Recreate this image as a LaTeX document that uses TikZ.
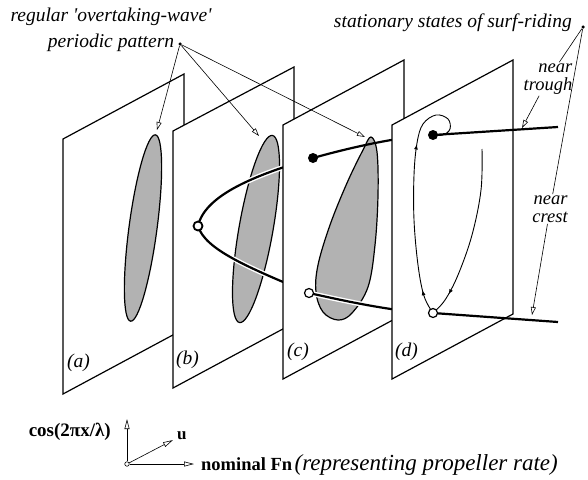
\documentclass[tikz,border=0pt]{standalone}
\usepackage{fontspec}
\setmainfont{Liberation Serif}
\usetikzlibrary{arrows.meta, decorations.markings}

\tikzset{
  panel/.style={fill=white, draw=black, line width=1.2pt},
  wavepatch/.style={fill=black!30, draw=black, line width=1.2pt},
  branch/.style={line width=2.2pt},
  halo/.style={white, line width=5pt},
  stableball/.style={circle, fill=black, inner sep=0pt, minimum size=10pt},
  saddleball/.style={circle, fill=white, draw=black, line width=1.2pt, inner sep=0pt, minimum size=9pt},
  traj/.style={line width=0.9pt},
  pointer/.style={line width=0.6pt, -{Triangle[open, length=8pt, width=5pt]}},
  leader/.style={line width=0.6pt},
  srcdot/.style={circle, fill=black, inner sep=0pt, minimum size=3.5pt},
  axisarrow/.style={line width=0.6pt, -{Triangle[open, length=10pt, width=5pt]}},
  caption/.style={font=\fontsize{19.5}{26}\selectfont\itshape, inner sep=0pt},
  tag/.style={font=\fontsize{18.5}{17.5}\selectfont\itshape, align=right, inner sep=1.5pt},
}

\begin{document}
\begin{tikzpicture}[x=1pt,y=-1pt]
  \useasboundingbox (0,0) rectangle (588,479);

  % equilibrium points
  \coordinate (vB) at (198,226);
  \coordinate (cT) at (313,158);
  \coordinate (cB) at (309,293);
  \coordinate (dT) at (433,135);
  \coordinate (dB) at (433,313);
  \coordinate (eT) at (558,127);
  \coordinate (eB) at (558,322);

  % Panel (a)
  \filldraw[panel] (63,394) -- (63,139) -- (184,74) -- (184,329) -- cycle;
  \draw[wavepatch, rotate around={-7.6:(143,228)}] (143,228) ellipse [x radius=14, y radius=94];
  \node[caption, anchor=west] (taga) at (67,363) {(a)};

  % Panel (b)
  \filldraw[panel] (173,388) -- (173,131) -- (294,67) -- (294,323) -- cycle;
  \draw[wavepatch, rotate around={-10:(256,229)}] (256,229) ellipse [x radius=17, y radius=95];
  \draw[halo] (vB) .. controls (205,195) and (255,175) .. (cT);
  \draw[branch] (vB) .. controls (205,195) and (255,175) .. (cT);
  \draw[halo] (vB) .. controls (205,250) and (250,268) .. (cB);
  \draw[branch] (vB) .. controls (205,250) and (250,268) .. (cB);
  \node[saddleball, line width=1.8pt] (vBball) at (vB) {};
  \node[caption, anchor=west] (tagb) at (176,360) {(b)};

  % Panel (c)
  \filldraw[panel] (283,379) -- (283,125) -- (404,60) -- (404,314) -- cycle;
  \draw[wavepatch] plot[smooth cycle, tension=0.6] coordinates {
    (371,137) (377,152) (378,195) (375,245) (368,287) (352,313) (338,320)
    (323,312) (316,292) (318,265) (330,225) (347,183) (363,150)};
  \draw[branch] (cT) .. controls (345,149) and (395,137) .. (dT);
  \draw[halo] (cB) .. controls (345,301) and (395,312) .. (dB);
  \draw[branch] (cB) .. controls (345,301) and (395,312) .. (dB);
  \node[stableball] (cTball) at (cT) {};
  \node[saddleball] (cBball) at (cB) {};
  \node[caption, anchor=west] (tagc) at (287,352) {(c)};

  % Panel (d)
  \filldraw[panel] (392,379) -- (392,125) -- (513,60) -- (513,314) -- cycle;
  \draw[traj, postaction={decorate}, decoration={markings,
      mark=at position 0.1 with {\arrow{Latex[length=5pt, width=4pt]}},
      mark=at position 0.68 with {\arrow{Latex[length=5pt, width=4pt]}}}]
    plot[smooth, tension=0.6] coordinates {(dB) (424,296) (418,265) (414,220) (414,175)
      (417,143) (423,124) (436,115) (448,119) (450,129) (443,135) (dT)};
  \coordinate (rS) at (482,149);
  \draw[traj, postaction={decorate}, decoration={markings,
      mark=at position 0.86 with {\arrow{Latex[length=5pt, width=4pt]}}}]
    plot[smooth, tension=0.6] coordinates {(rS) (481,190) (472,235) (458,275) (445,300) (dB)};
  \draw[branch] (dT) -- (eT);
  \draw[branch] (dB) -- (eB);
  \node[stableball] (dTball) at (dT) {};
  \node[saddleball] (dBball) at (dB) {};
  \node[caption, anchor=west] (tagd) at (395,352) {(d)};

  % annotations
  \node[caption, align=center] (patlbl) at (111,30) {regular \textquotesingle overtaking-wave\textquotesingle\\periodic pattern};
  \node[srcdot] (pat) at (180,44) {};
  \coordinate (tipA) at (157,130);
  \coordinate (tipB) at (259,136);
  \coordinate (tipC) at (365,137);
  \draw[pointer] (pat) -- (tipA);
  \draw[pointer] (pat) -- (tipB);
  \draw[pointer] (pat) -- (tipC);

  \node[caption, anchor=east] (satlbl) at (572,23) {stationary states of surf-riding};
  \node[srcdot] (sat) at (583,27) {};
  \node[tag] (trough) at (548,79) {near\\trough};
  \node[tag] (crest) at (550,209) {near\\crest};
  \coordinate (tipT) at (522,128);
  \coordinate (tipK) at (532,315);
  \draw[leader] (sat) -- (trough);
  \draw[pointer] (trough) -- (tipT);
  \draw[leader] (sat) -- (crest);
  \draw[pointer] (crest) -- (tipK);

  % axes
  \node[circle, draw, line width=0.6pt, inner sep=0pt, minimum size=4.5pt] (orig) at (127,464) {};
  \coordinate (cosend) at (127,419);
  \coordinate (fnend) at (194,464);
  \coordinate (uend) at (173,440);
  \draw[axisarrow] (orig) -- (cosend);
  \draw[axisarrow] (orig) -- (fnend);
  \draw[axisarrow] (orig) -- (uend);
  \node[font=\fontsize{19}{20}\selectfont\bfseries, anchor=east, inner sep=0pt] (coslbl) at (111,432) {cos(2πx/λ)};
  \node[font=\fontsize{17}{20}\selectfont\bfseries, anchor=west, inner sep=0pt] (ulbl) at (177,436) {u};
  \node[anchor=west, inner sep=0pt] (fnlbl) at (201,465) {{\fontsize{18.5}{20}\selectfont\bfseries nominal Fn}
    {\fontsize{23}{20}\selectfont\itshape (representing propeller rate)}};
\end{tikzpicture}
\end{document}
